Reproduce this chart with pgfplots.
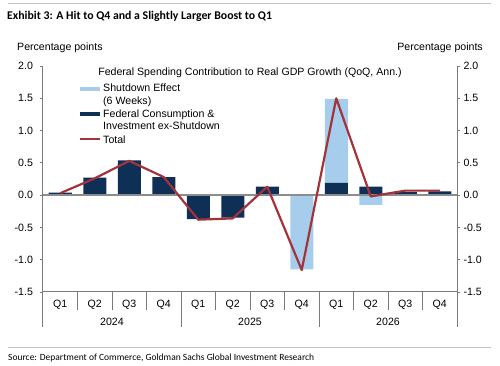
\documentclass[border=0pt]{standalone}
\usepackage{pgfplots}
\pgfplotsset{compat=1.18}
\usepackage{fontspec}
\setmainfont{Liberation Sans}
\newfontfamily\calibri{Carlito}
\definecolor{navy}{HTML}{0E2F56}
\definecolor{lblue}{HTML}{A6CDEB}
\definecolor{tred}{HTML}{A3333A}
\definecolor{axgray}{HTML}{7A7A7A}
\definecolor{zgray}{HTML}{8C8C8C}
\definecolor{rulegray}{HTML}{C4C4C4}
\newcommand{\lf}{\fontsize{10.6}{12}\selectfont}
\begin{document}
\begin{tikzpicture}
\useasboundingbox (-43pt,-74pt) rectangle (457pt,292pt);
% data axis
\begin{axis}[
  at={(0pt,0pt)}, anchor=south west,
  width=414pt, height=226pt, scale only axis,
  xmin=-0.5, xmax=11.5, ymin=-1.5, ymax=2,
  axis line style={draw=none},
  xtick={0,1,2,3,4,5,6,7,8,9,10,11},
  xticklabels={Q1,Q2,Q3,Q4,Q1,Q2,Q3,Q4,Q1,Q2,Q3,Q4},
  major tick length=0pt,
  xticklabel style={anchor=base, yshift=-15.8pt, font=\lf},
  ytick=\empty,
  clip=false,
]
\addplot[ybar, bar width=23pt, bar shift=0pt, fill=lblue, draw=none, forget plot]
  coordinates {(7,-1.15) (8,1.49) (9,-0.15)};
\addplot[ybar, bar width=23pt, bar shift=0pt, fill=navy, draw=none, forget plot]
  coordinates {(0,0.04) (1,0.27) (2,0.54) (3,0.28) (4,-0.37) (5,-0.35) (6,0.13) (8,0.19) (9,0.13) (10,0.05) (11,0.06)};
\addplot[zgray, line width=1.3pt, no markers, forget plot]
  coordinates {(-0.5,0) (11.5,0)};
\addplot[tred, line width=2.2pt, no markers, line join=round, forget plot]
  coordinates {(0,0.03) (1,0.26) (2,0.53) (3,0.28) (4,-0.38) (5,-0.36) (6,0.13) (7,-1.16) (8,1.50) (9,-0.02) (10,0.07) (11,0.07)};
\end{axis}
% left y axis
\begin{axis}[
  at={(0pt,0pt)}, anchor=south west,
  width=414pt, height=226pt, scale only axis,
  xmin=-0.5, xmax=11.5, ymin=-1.5, ymax=2,
  axis x line=none, axis y line*=left,
  axis line style={axgray, line width=1pt},
  ytick={-1.5,-1,-0.5,0,0.5,1,1.5,2},
  tick align=outside, major tick length=3pt,
  tick style={axgray, line width=0.8pt},
  yticklabel style={font=\lf, xshift=-3.5pt, /pgf/number format/.cd, fixed, fixed zerofill, precision=1, assume math mode=true},
]
\end{axis}
% right y axis
\begin{axis}[
  at={(0pt,0pt)}, anchor=south west,
  width=414pt, height=226pt, scale only axis,
  xmin=-0.5, xmax=11.5, ymin=-1.5, ymax=2,
  axis x line=none, axis y line*=right,
  axis line style={axgray, line width=1pt},
  ytick={-1.5,-1,-0.5,0,0.5,1,1.5,2},
  tick align=outside, major tick length=3pt,
  tick style={axgray, line width=0.8pt},
  yticklabel style={font=\lf, /pgf/number format/.cd, fixed, fixed zerofill, precision=1, assume math mode=true},
]
\end{axis}
% decorations in image coordinates
\begin{scope}[x=1pt, y=-1pt, shift={(-43pt,292pt)}]
  \draw[rulegray, line width=0.8pt] (8,3) -- (491,3);
  \node[anchor=base west, inner sep=0, font=\calibri\bfseries\fontsize{11.8}{13}\selectfont] at (7,20) {Exhibit 3: A Hit to Q4 and a Slightly Larger Boost to Q1};
  \node[anchor=base west, inner sep=0, font=\lf] at (17,50.8) {Percentage points};
  \node[anchor=base east, inner sep=0, font=\lf] at (483,50.8) {Percentage points};
  \node[anchor=base, inner sep=0, font=\lf] at (250,75.6) {Federal Spending Contribution to Real GDP Growth (QoQ, Ann.)};
  % legend
  \fill[lblue] (80,86.6) rectangle (100,91);
  \node[anchor=base west, inner sep=0, font=\lf] at (103,92) {Shutdown Effect};
  \node[anchor=base west, inner sep=0, font=\lf] at (103,104.8) {(6 Weeks)};
  \fill[navy] (80,111.7) rectangle (100,116);
  \node[anchor=base west, inner sep=0, font=\lf] at (103,117.8) {Federal Consumption \&};
  \node[anchor=base west, inner sep=0, font=\lf] at (103,129.8) {Investment ex-Shutdown};
  \draw[tred, line width=2.2pt] (80,139.3) -- (100,139.3);
  \node[anchor=base west, inner sep=0, font=\lf] at (103,143.1) {Total};
  % x axis and separators
  \draw[axgray, line width=1pt] (43,292) -- (457,292);
  \foreach \k in {1,2,3,5,6,7,9,10,11} {
    \draw[axgray, line width=0.8pt] ({43+34.5*\k},292) -- ({43+34.5*\k},310);
  }
  \foreach \k in {4,8} {
    \draw[axgray, line width=0.8pt] ({43+34.5*\k},292) -- ({43+34.5*\k},327.5);
  }
  \draw[axgray, line width=1pt] (43,292) -- (43,327.5);
  \draw[axgray, line width=1pt] (457,292) -- (457,327.5);
  \node[anchor=base, inner sep=0, font=\lf] at (112,325.5) {2024};
  \node[anchor=base, inner sep=0, font=\lf] at (250,325.5) {2025};
  \node[anchor=base, inner sep=0, font=\lf] at (388,325.5) {2026};
  \draw[rulegray, line width=0.8pt] (8,347.7) -- (491,347.7);
  \node[anchor=base west, inner sep=0, font=\calibri\fontsize{9.5}{11}\selectfont] at (8,360.3) {Source: Department of Commerce, Goldman Sachs Global Investment Research};
\end{scope}
\end{tikzpicture}
\end{document}
